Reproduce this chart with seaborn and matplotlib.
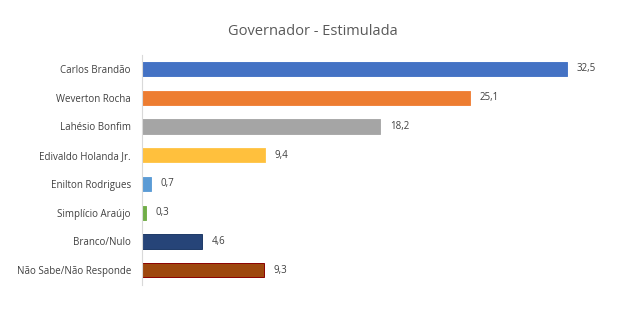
import matplotlib
matplotlib.use("Agg")
import matplotlib.pyplot as plt
import seaborn as sns
import pandas as pd

categories = ["Carlos Brandão", "Weverton Rocha", "Lahésio Bonfim", "Edivaldo Holanda Jr.",
              "Enilton Rodrigues", "Simplício Araújo", "Branco/Nulo", "Não Sabe/Não Responde"]
values = [32.5, 25.1, 18.2, 9.4, 0.7, 0.3, 4.6, 9.3]
labels = ["32,5", "25,1", "18,2", "9,4", "0,7", "0,3", "4,6", "9,3"]
colors = ["#4472C4", "#ED7D31", "#A5A5A5", "#FFC03D", "#5B9BD5", "#70AD47", "#264478", "#9E480E"]
edges = ["#4A78C8", "#F08540", "#AAAAAA", "#FFC850", "#62A0D8", "#76B04D", "#1E3A68", "#8B0000"]
title = "Governador - Estimulada"

sns.set_theme(style="white")
plt.rcParams['font.family'] = ['Open Sans', 'DejaVu Sans']

df = pd.DataFrame({"cat": categories, "val": values})

fig = plt.figure(figsize=(6.38, 3.30), dpi=100)
ax = fig.add_axes([0.2226, 0.1376, 0.7174, 0.6969])
sns.barplot(data=df, x="val", y="cat", hue="cat", palette=colors, legend=False,
            width=0.5, ax=ax, orient="h", saturation=1)
for p, ec in zip(ax.patches, edges):
    p.set_edgecolor(ec)
    p.set_linewidth(0.7)
for i, (v, lab) in enumerate(zip(values, labels)):
    ax.annotate(lab, (v, i), xytext=(7, 0), textcoords="offset points",
                va="center", ha="left", fontsize=7, color="#404040")
ax.set_xlim(0, 35)
ax.set_ylim(7.5, -0.5)
ax.set_xlabel("")
ax.set_ylabel("")
ax.set_xticks([])
ax.tick_params(axis="y", length=0, labelsize=7, labelcolor="#404040", pad=8)
for s in ["top", "right", "bottom"]:
    ax.spines[s].set_visible(False)
ax.spines["left"].set_color("#D9D9D9")
ax.spines["left"].set_linewidth(0.8)
fig.text(0.49, 0.905, title, ha="center", va="center", fontsize=10.5, color="#595959")
fig.savefig("out.png", dpi=100, facecolor="white")
